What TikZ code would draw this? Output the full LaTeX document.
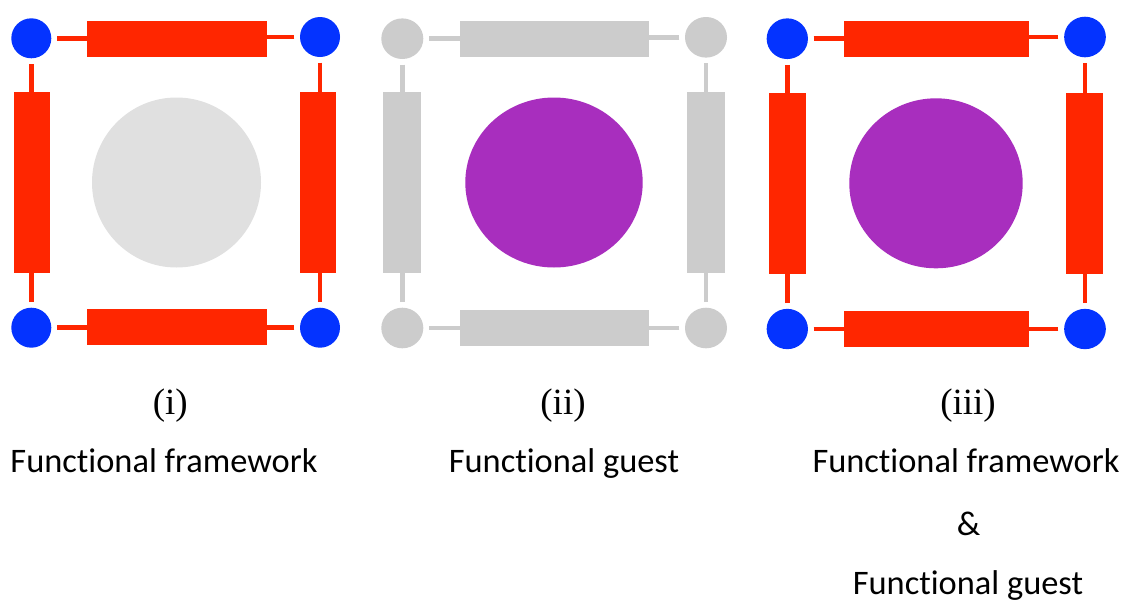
\documentclass[tikz,border=0pt]{standalone}
\usepackage{fontspec}
\setmainfont{Liberation Serif}
\newfontfamily\labelfont[Ligatures=NoCommon]{Carlito}
\usetikzlibrary{shapes.geometric}
\definecolor{redbar}{RGB}{255,38,0}
\definecolor{bluenode}{RGB}{4,51,255}
\definecolor{greypart}{RGB}{204,204,204}
\definecolor{lightguest}{RGB}{224,224,224}
\definecolor{purpleguest}{RGB}{168,46,190}
\tikzset{
  joint/.style={ellipse,inner sep=0pt,draw=none,fill=#1},
  rod/.style={rectangle,inner sep=0pt,draw=none,fill=#1},
  guest/.style={ellipse,inner sep=0pt,draw=none,fill=#1},
  link/.style={line width=4.8pt,draw=#1,shorten <=5.5pt},
  numlabel/.style={anchor=base,inner sep=0pt,font=\fontsize{37}{40}\selectfont},
  txtlabel/.style={anchor=base,inner sep=0pt,font=\labelfont\fontsize{34.4}{38}\selectfont}
}
\begin{document}
\begin{tikzpicture}[x=1pt,y=-1pt]
\useasboundingbox[fill=white] (0,0) rectangle (1128,603);
% ---------- panel (i) ----------
\node[guest=lightguest,minimum width=169pt,minimum height=170pt] (g1) at (176.5,182.5) {};
\node[joint=bluenode,minimum width=40pt,minimum height=40pt] (a1) at (31.3,38.3) {};
\node[joint=bluenode,minimum width=40pt,minimum height=40pt] (b1) at (320,37) {};
\node[joint=bluenode,minimum width=40pt,minimum height=40pt] (c1) at (31.3,327.7) {};
\node[joint=bluenode,minimum width=40pt,minimum height=40pt] (d1) at (320,327.7) {};
\node[rod=redbar,minimum width=180pt,minimum height=36pt] (t1) at (177,39) {};
\node[rod=redbar,minimum width=180pt,minimum height=36pt] (u1) at (177,327) {};
\node[rod=redbar,minimum width=36pt,minimum height=180.7pt] (l1) at (32,182.3) {};
\node[rod=redbar,minimum width=36pt,minimum height=180.7pt] (r1) at (318,182.3) {};
\draw[link=redbar] (a1) -- (a1 -| t1.west);
\draw[link=redbar] (b1) -- (b1 -| t1.east);
\draw[link=redbar] (c1) -- (c1 -| u1.west);
\draw[link=redbar] (d1) -- (d1 -| u1.east);
\draw[link=redbar] (a1) -- (a1 |- l1.north);
\draw[link=redbar] (c1) -- (c1 |- l1.south);
\draw[link=redbar] (b1) -- (b1 |- r1.north);
\draw[link=redbar] (d1) -- (d1 |- r1.south);
% ---------- panel (ii) ----------
\node[guest=purpleguest,minimum width=177.4pt,minimum height=170pt] (g2) at (554,182.5) {};
\node[joint=greypart,minimum width=42pt,minimum height=40.6pt] (a2) at (402.3,38.7) {};
\node[joint=greypart,minimum width=42pt,minimum height=40.6pt] (b2) at (706,37.3) {};
\node[joint=greypart,minimum width=42pt,minimum height=40.6pt] (c2) at (402.3,328) {};
\node[joint=greypart,minimum width=42pt,minimum height=40.6pt] (d2) at (706,328) {};
\node[rod=greypart,minimum width=189pt,minimum height=36pt] (t2) at (554.5,39) {};
\node[rod=greypart,minimum width=189pt,minimum height=35.7pt] (u2) at (554.5,327.8) {};
\node[rod=greypart,minimum width=38.3pt,minimum height=180.7pt] (l2) at (401.8,182.3) {};
\node[rod=greypart,minimum width=38pt,minimum height=180.7pt] (r2) at (706,182.3) {};
\draw[link=greypart] (a2) -- (a2 -| t2.west);
\draw[link=greypart] (b2) -- (b2 -| t2.east);
\draw[link=greypart] (c2) -- (c2 -| u2.west);
\draw[link=greypart] (d2) -- (d2 -| u2.east);
\draw[link=greypart] (a2) -- (a2 |- l2.north);
\draw[link=greypart] (c2) -- (c2 |- l2.south);
\draw[link=greypart] (b2) -- (b2 |- r2.north);
\draw[link=greypart] (d2) -- (d2 |- r2.south);
% ---------- panel (iii) ----------
\node[guest=purpleguest,minimum width=173.4pt,minimum height=170pt] (g3) at (936,183.3) {};
\node[joint=bluenode,minimum width=41.3pt,minimum height=40.7pt] (a3) at (787.3,38.7) {};
\node[joint=bluenode,minimum width=41.7pt,minimum height=40.6pt] (b3) at (1085,37) {};
\node[joint=bluenode,minimum width=41.3pt,minimum height=40.3pt] (c3) at (787.3,329) {};
\node[joint=bluenode,minimum width=41.7pt,minimum height=40.3pt] (d3) at (1085,329) {};
\node[rod=redbar,minimum width=185pt,minimum height=36pt] (t3) at (936.5,39) {};
\node[rod=redbar,minimum width=185pt,minimum height=36pt] (u3) at (936.5,329) {};
\node[rod=redbar,minimum width=37pt,minimum height=181pt] (l3) at (787.5,183.5) {};
\node[rod=redbar,minimum width=37pt,minimum height=181pt] (r3) at (1084.5,183.5) {};
\draw[link=redbar] (a3) -- (a3 -| t3.west);
\draw[link=redbar] (b3) -- (b3 -| t3.east);
\draw[link=redbar] (c3) -- (c3 -| u3.west);
\draw[link=redbar] (d3) -- (d3 -| u3.east);
\draw[link=redbar] (a3) -- (a3 |- l3.north);
\draw[link=redbar] (c3) -- (c3 |- l3.south);
\draw[link=redbar] (b3) -- (b3 |- r3.north);
\draw[link=redbar] (d3) -- (d3 |- r3.south);
% ---------- labels ----------
\node[numlabel] (n1) at (170.3,414.5) {(i)};
\node[numlabel] (n2) at (563,414.5) {(ii)};
\node[numlabel] (n3) at (968,414.5) {(iii)};
\node[txtlabel] (f1) at (164,472) {Functional framework};
\node[txtlabel] (f2) at (564,472) {Functional guest};
\node[txtlabel] (f3) at (966,472) {Functional framework};
\node[txtlabel] (amp) at (968.5,535) {\&};
\node[txtlabel] (f4) at (968,594) {Functional guest};
\end{tikzpicture}
\end{document}
